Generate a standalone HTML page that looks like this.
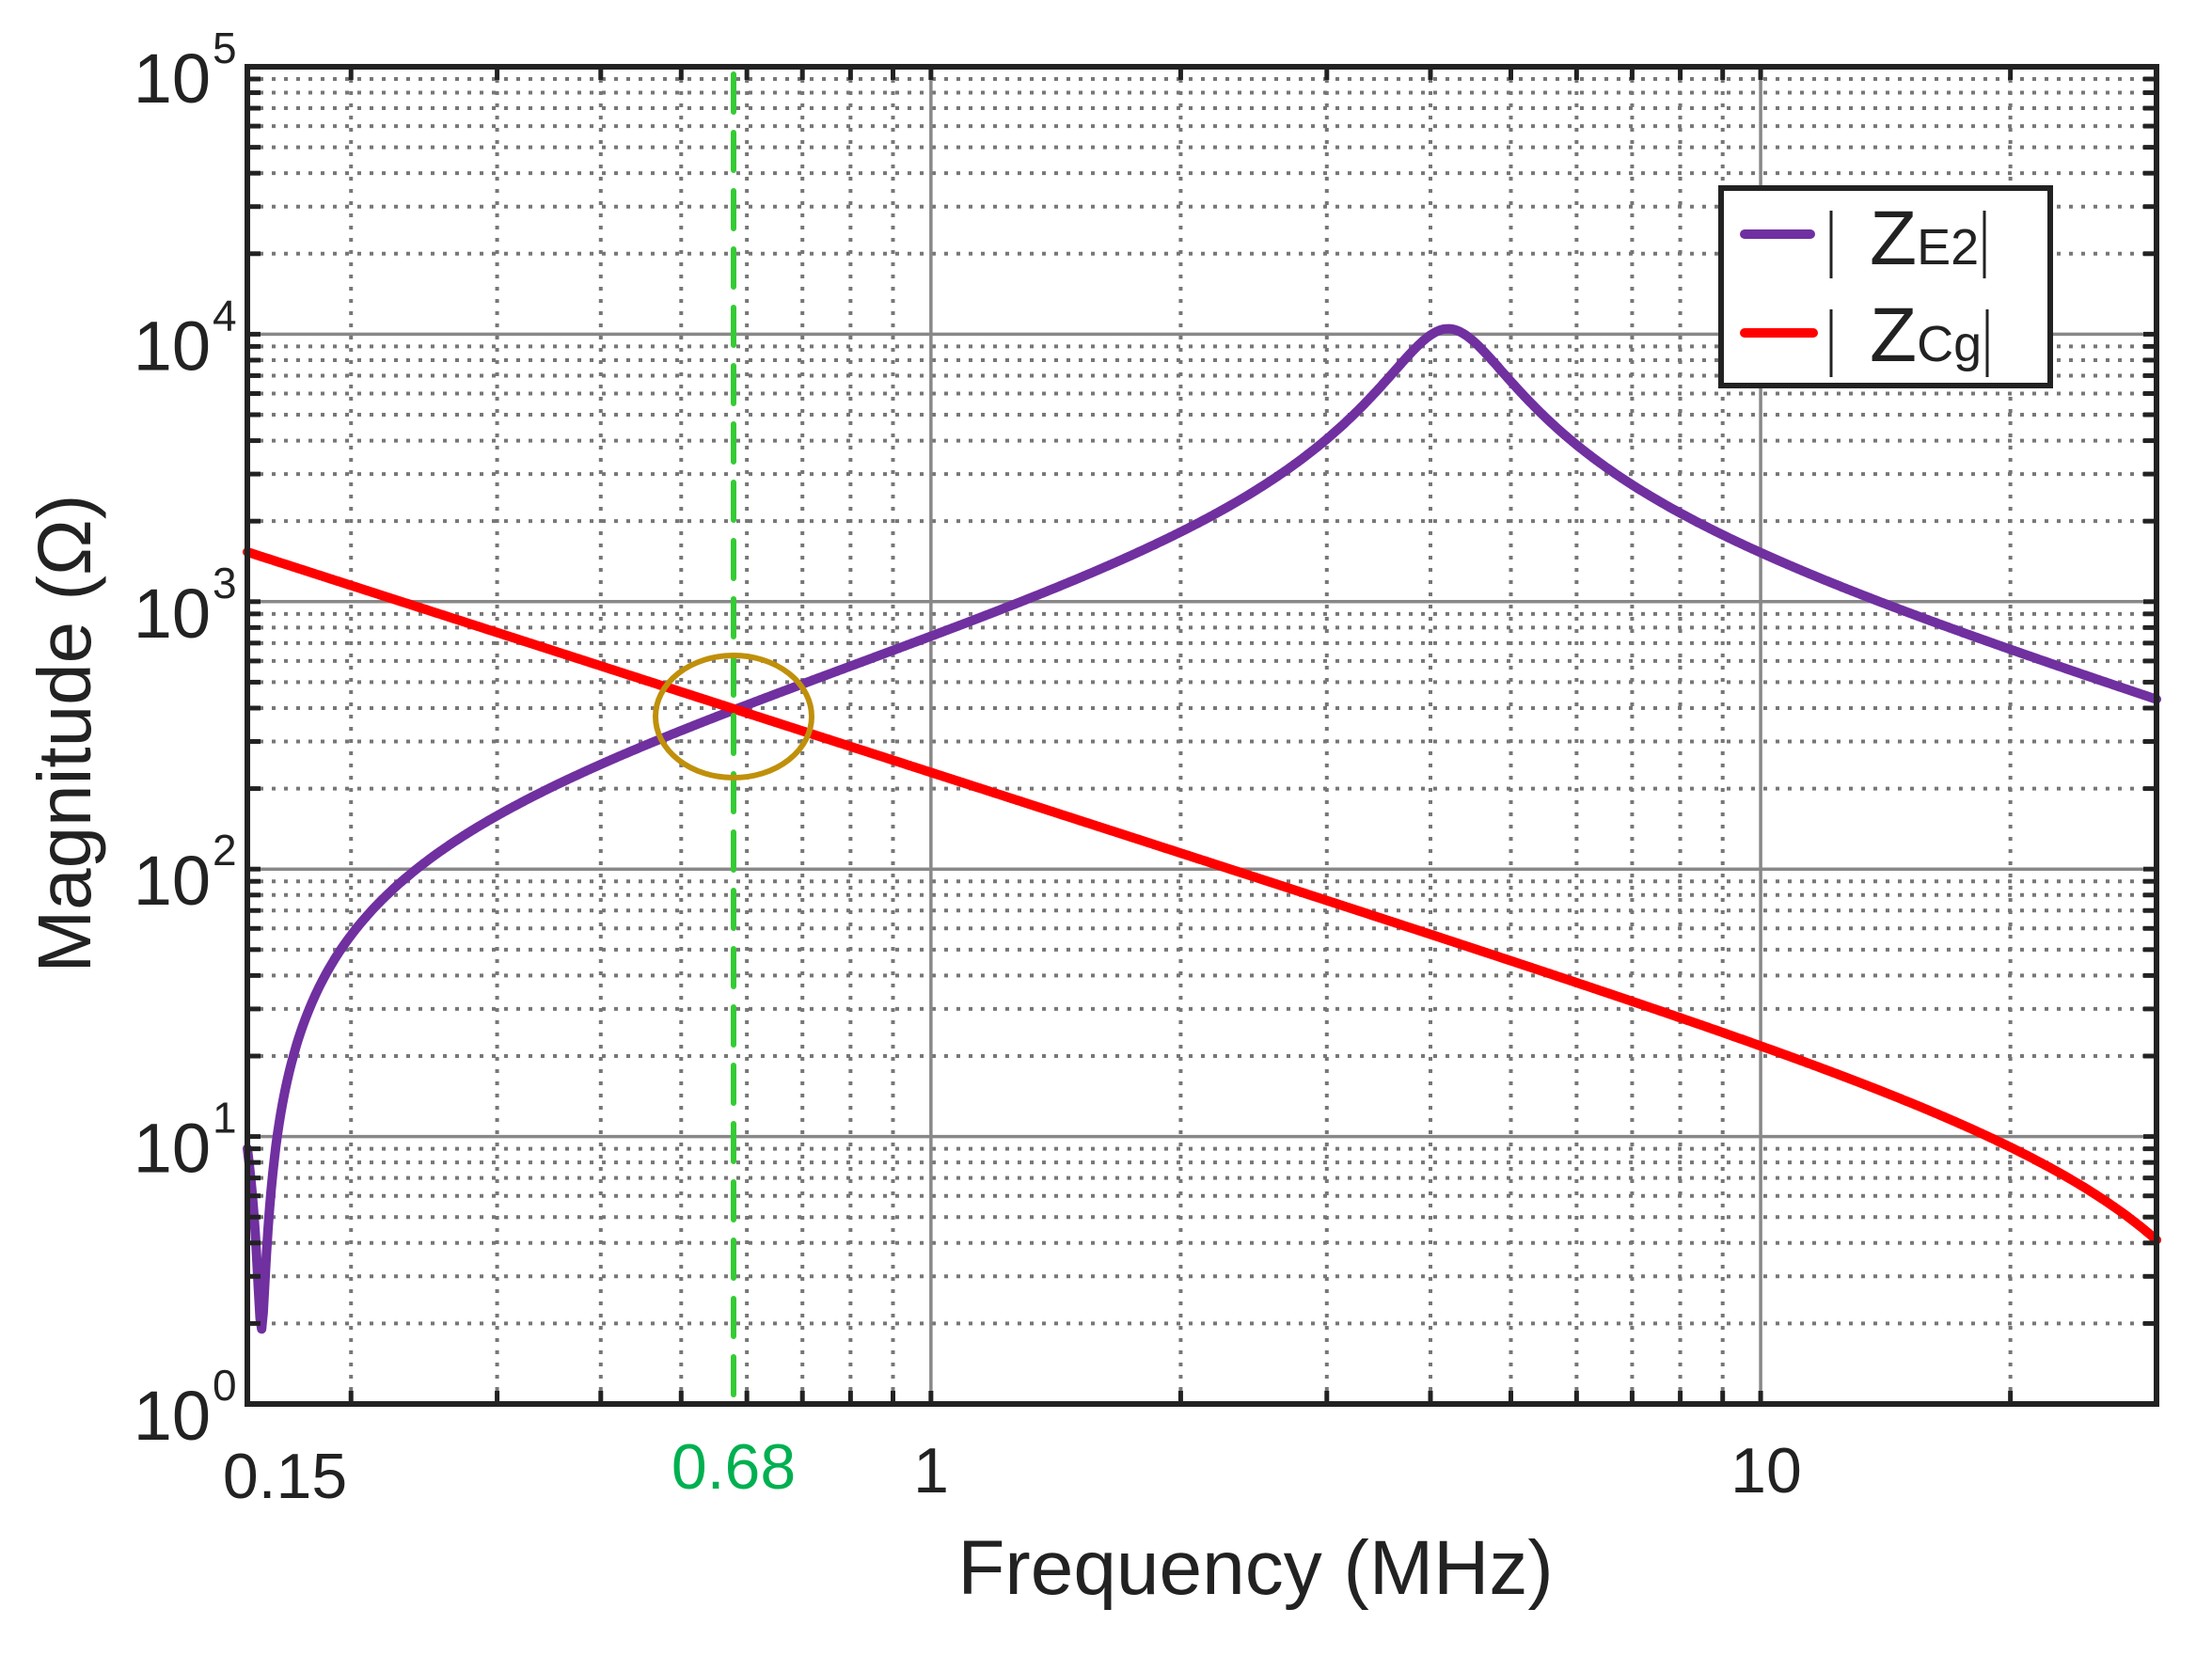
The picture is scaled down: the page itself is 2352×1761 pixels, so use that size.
<!DOCTYPE html>
<html><head><meta charset="utf-8">
<style>
html,body{margin:0;padding:0;background:#fff;}
svg{display:block;font-family:"Liberation Sans",Arial,sans-serif;}
</style></head>
<body>
<svg id="s" xmlns="http://www.w3.org/2000/svg" width="2352" height="1761" viewBox="0 0 2352 1761">
<rect width="2352" height="1761" fill="#fff"/>
<g id="grid"></g>
<g id="curves"></g>
<g id="axes"></g>
<g id="labels" fill="#222"></g>
</svg>
<script>
(function(){
var NS="http://www.w3.org/2000/svg";
var L=263,R=2293,T=71,B=1493;
var xmin=Math.log10(0.15),xmax=Math.log10(30);
function X(f){return L+(Math.log10(f)-xmin)/(xmax-xmin)*(R-L);}
function Y(v){return B-(Math.log10(v))/5*(B-T);}
function el(p,tag,a,txt){var e=document.createElementNS(NS,tag);for(var k in a)e.setAttribute(k,a[k]);if(txt!==undefined)e.textContent=txt;p.appendChild(e);return e;}
var g=document.getElementById('grid'),ax=document.getElementById('axes'),lb=document.getElementById('labels'),cv=document.getElementById('curves');
for(var d=0;d<5;d++){for(var m=1;m<10;m++){var v=m*Math.pow(10,d);var y=Y(v);
 if(m==1){if(d>0)el(g,'line',{x1:L,x2:R,y1:y,y2:y,stroke:'#888','stroke-width':3.5});}
 else el(g,'line',{x1:L,x2:R,y1:y,y2:y,stroke:'#777','stroke-width':4,'stroke-dasharray':'4 9'});
 if(!(d==0&&m==1)){el(ax,'line',{x1:L,x2:L+14,y1:y,y2:y,stroke:'#222','stroke-width':5});el(ax,'line',{x1:R-14,x2:R,y1:y,y2:y,stroke:'#222','stroke-width':5});}
}}
var xs=[0.2,0.3,0.4,0.5,0.6,0.7,0.8,0.9,1,2,3,4,5,6,7,8,9,10,20];
xs.forEach(function(f){var x=X(f);
 if(f==1||f==10)el(g,'line',{x1:x,x2:x,y1:T,y2:B,stroke:'#888','stroke-width':3.5});
 else el(g,'line',{x1:x,x2:x,y1:T,y2:B,stroke:'#777','stroke-width':4,'stroke-dasharray':'4 9'});
 el(ax,'line',{x1:x,x2:x,y1:B,y2:B-14,stroke:'#222','stroke-width':5});
 el(ax,'line',{x1:x,x2:x,y1:T,y2:T+14,stroke:'#222','stroke-width':5});
});
el(ax,'rect',{x:L,y:T,width:R-L,height:B-T,fill:'none',stroke:'#222','stroke-width':6});
function path(fn){var d='';for(var i=0;i<=1200;i++){var lf=xmin+(xmax-xmin)*i/1200;var f=Math.pow(10,lf);var v=fn(f);d+=(i?'L':'M')+X(f).toFixed(1)+' '+Y(v).toFixed(1);}return d;}
var A=720,fs=0.156,fp=4.2,Q=3.47;
function ze(f){var num=A*f*Math.abs(1-(fs/f)*(fs/f));num=Math.sqrt(num*num+1.9*1.9);var r=f/fp;var den=Math.sqrt(Math.pow(1-r*r,2)+Math.pow(r/Q,2));return num/den;}
function zc(f){return 230/f*Math.abs(1-Math.pow(f/44,2));}
el(cv,'path',{d:path(ze),fill:'none',stroke:'#7030a0','stroke-width':10,'stroke-linejoin':'round','stroke-linecap':'round'});
el(cv,'path',{d:path(zc),fill:'none',stroke:'#ff0000','stroke-width':10,'stroke-linejoin':'round','stroke-linecap':'round'});
var gx=780;
el(cv,'line',{x1:gx,x2:gx,y1:T+8,y2:B,stroke:'#33cc33','stroke-width':6,'stroke-dasharray':'40 22','stroke-linecap':'round'});
el(cv,'ellipse',{cx:gx,cy:762,rx:83,ry:65,fill:'none',stroke:'#c0900a','stroke-width':6});
// legend
el(ax,'rect',{x:1830,y:200,width:350,height:210,fill:'#fff',stroke:'#222','stroke-width':6});
el(ax,'line',{x1:1855,x2:1925,y1:249,y2:249,stroke:'#7030a0','stroke-width':10,'stroke-linecap':'round'});
el(ax,'line',{x1:1855,x2:1928,y1:354,y2:354,stroke:'#ff0000','stroke-width':10,'stroke-linecap':'round'});
[[224,296,'E2',2110,281],[329,401,'Cg',2113,384]].forEach(function(a){
 el(ax,'line',{x1:1947,x2:1947,y1:a[0],y2:a[1],stroke:'#222','stroke-width':3});
 el(ax,'line',{x1:a[3],x2:a[3],y1:a[0],y2:a[1],stroke:'#222','stroke-width':3});
 var t=el(lb,'text',{x:1988,y:a[4],'font-size':82});
 el(t,'tspan',{},'Z');el(t,'tspan',{'font-size':54},a[2]);
});
for(var d=0;d<=5;d++){var y=Y(Math.pow(10,d));
 el(lb,'text',{x:224,y:y+38,'font-size':74,'text-anchor':'end'},'10');
 el(lb,'text',{x:226,y:y-4,'font-size':46},String(d));
}
el(lb,'text',{x:303,y:1593,'font-size':68,'text-anchor':'middle'},'0.15');
el(lb,'text',{x:990,y:1587,'font-size':68,'text-anchor':'middle'},'1');
el(lb,'text',{x:1878,y:1587,'font-size':68,'text-anchor':'middle'},'10');
el(lb,'text',{x:gx,y:1583,'font-size':68,'text-anchor':'middle',fill:'#00b050'},'0.68');
el(lb,'text',{x:1335,y:1695,'font-size':82,'text-anchor':'middle'},'Frequency (MHz)');
el(lb,'text',{x:0,y:0,'font-size':80,'text-anchor':'middle',transform:'translate(96,780) rotate(-90)'},'Magnitude (Ω)');
})();
</script>
</body></html>
